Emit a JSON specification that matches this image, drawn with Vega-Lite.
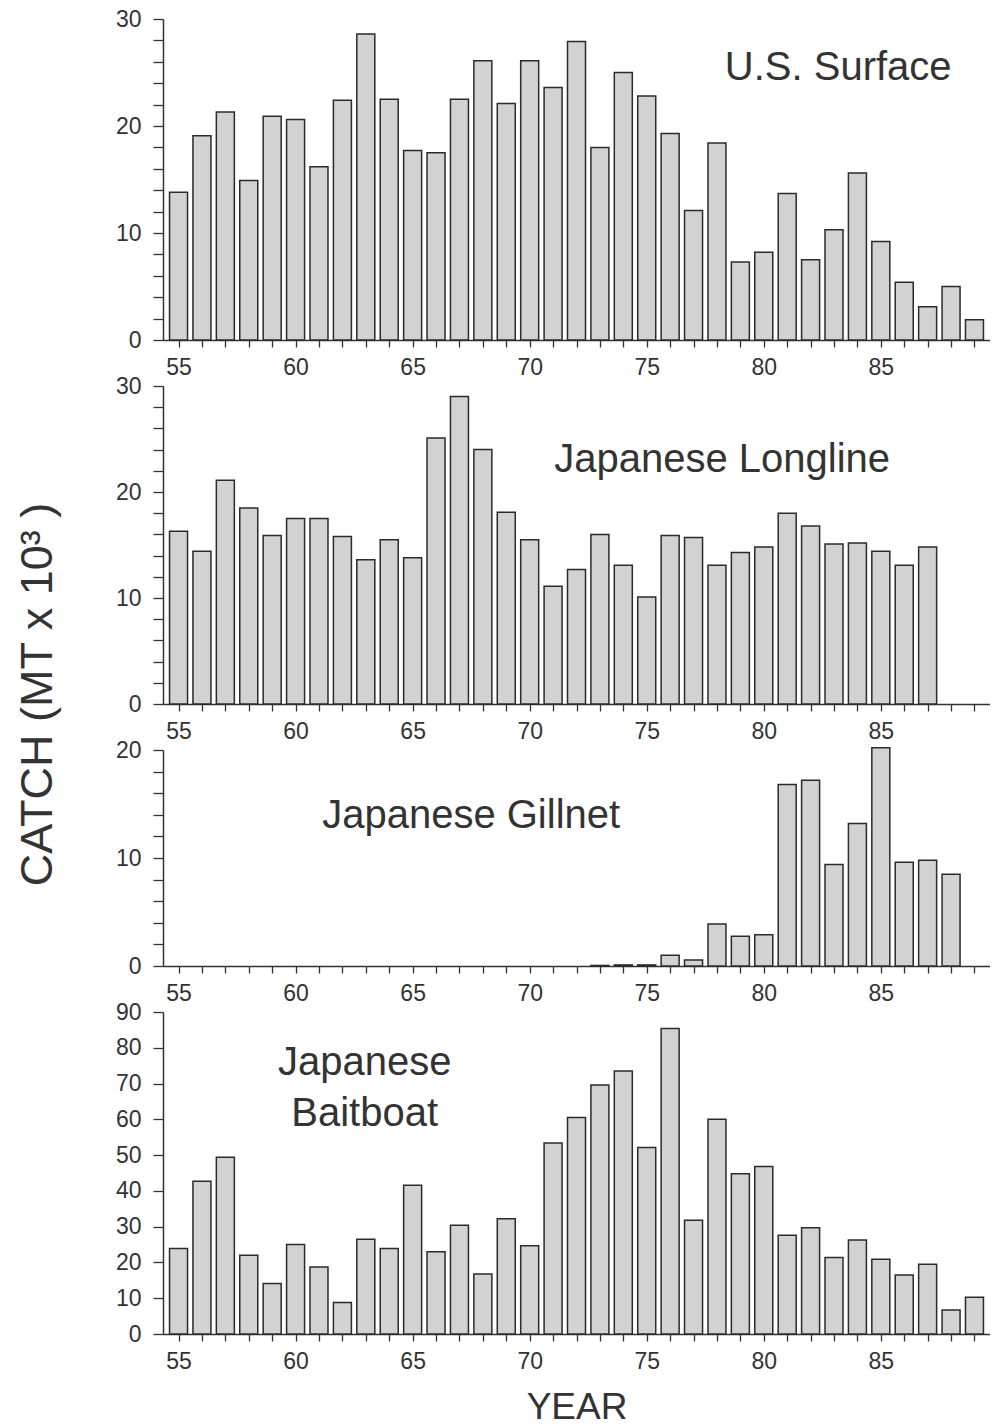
{
  "$schema": "https://vega.github.io/schema/vega-lite/v6.json",
  "background": "white",
  "padding": {"left": 16, "top": 8, "right": 0, "bottom": 0},
  "title": {"text": "CATCH (MT x 10³ )", "orient": "left", "anchor": "middle", "fontSize": 45, "font": "Liberation Sans", "fontWeight": "normal", "color": "#333333", "offset": 54, "dx": 22},
  "datasets": {
    "surface": [
      {"year": 55, "catch": 13.8}, {"year": 56, "catch": 19.1}, {"year": 57, "catch": 21.3}, {"year": 58, "catch": 14.9},
      {"year": 59, "catch": 20.9}, {"year": 60, "catch": 20.6}, {"year": 61, "catch": 16.2}, {"year": 62, "catch": 22.4},
      {"year": 63, "catch": 28.6}, {"year": 64, "catch": 22.5}, {"year": 65, "catch": 17.7}, {"year": 66, "catch": 17.5},
      {"year": 67, "catch": 22.5}, {"year": 68, "catch": 26.1}, {"year": 69, "catch": 22.1}, {"year": 70, "catch": 26.1},
      {"year": 71, "catch": 23.6}, {"year": 72, "catch": 27.9}, {"year": 73, "catch": 18.0}, {"year": 74, "catch": 25.0},
      {"year": 75, "catch": 22.8}, {"year": 76, "catch": 19.3}, {"year": 77, "catch": 12.1}, {"year": 78, "catch": 18.4},
      {"year": 79, "catch": 7.3}, {"year": 80, "catch": 8.2}, {"year": 81, "catch": 13.7}, {"year": 82, "catch": 7.5},
      {"year": 83, "catch": 10.3}, {"year": 84, "catch": 15.6}, {"year": 85, "catch": 9.2}, {"year": 86, "catch": 5.4},
      {"year": 87, "catch": 3.1}, {"year": 88, "catch": 5.0}, {"year": 89, "catch": 1.9}
    ],
    "longline": [
      {"year": 55, "catch": 16.3}, {"year": 56, "catch": 14.4}, {"year": 57, "catch": 21.1}, {"year": 58, "catch": 18.5},
      {"year": 59, "catch": 15.9}, {"year": 60, "catch": 17.5}, {"year": 61, "catch": 17.5}, {"year": 62, "catch": 15.8},
      {"year": 63, "catch": 13.6}, {"year": 64, "catch": 15.5}, {"year": 65, "catch": 13.8}, {"year": 66, "catch": 25.1},
      {"year": 67, "catch": 29.0}, {"year": 68, "catch": 24.0}, {"year": 69, "catch": 18.1}, {"year": 70, "catch": 15.5},
      {"year": 71, "catch": 11.1}, {"year": 72, "catch": 12.7}, {"year": 73, "catch": 16.0}, {"year": 74, "catch": 13.1},
      {"year": 75, "catch": 10.1}, {"year": 76, "catch": 15.9}, {"year": 77, "catch": 15.7}, {"year": 78, "catch": 13.1},
      {"year": 79, "catch": 14.3}, {"year": 80, "catch": 14.8}, {"year": 81, "catch": 18.0}, {"year": 82, "catch": 16.8},
      {"year": 83, "catch": 15.1}, {"year": 84, "catch": 15.2}, {"year": 85, "catch": 14.4}, {"year": 86, "catch": 13.1},
      {"year": 87, "catch": 14.8}
    ],
    "gillnet": [
      {"year": 73, "catch": 0.05}, {"year": 74, "catch": 0.1}, {"year": 75, "catch": 0.1}, {"year": 76, "catch": 1.0},
      {"year": 77, "catch": 0.55}, {"year": 78, "catch": 3.9}, {"year": 79, "catch": 2.75}, {"year": 80, "catch": 2.9},
      {"year": 81, "catch": 16.8}, {"year": 82, "catch": 17.2}, {"year": 83, "catch": 9.4}, {"year": 84, "catch": 13.2},
      {"year": 85, "catch": 20.2}, {"year": 86, "catch": 9.6}, {"year": 87, "catch": 9.8}, {"year": 88, "catch": 8.5}
    ],
    "baitboat": [
      {"year": 55, "catch": 23.9}, {"year": 56, "catch": 42.7}, {"year": 57, "catch": 49.4}, {"year": 58, "catch": 22.0},
      {"year": 59, "catch": 14.1}, {"year": 60, "catch": 25.0}, {"year": 61, "catch": 18.7}, {"year": 62, "catch": 8.8},
      {"year": 63, "catch": 26.5}, {"year": 64, "catch": 23.9}, {"year": 65, "catch": 41.6}, {"year": 66, "catch": 23.0},
      {"year": 67, "catch": 30.4}, {"year": 68, "catch": 16.8}, {"year": 69, "catch": 32.2}, {"year": 70, "catch": 24.7},
      {"year": 71, "catch": 53.4}, {"year": 72, "catch": 60.5}, {"year": 73, "catch": 69.6}, {"year": 74, "catch": 73.5},
      {"year": 75, "catch": 52.1}, {"year": 76, "catch": 85.4}, {"year": 77, "catch": 31.8}, {"year": 78, "catch": 60.0},
      {"year": 79, "catch": 44.8}, {"year": 80, "catch": 46.8}, {"year": 81, "catch": 27.6}, {"year": 82, "catch": 29.7},
      {"year": 83, "catch": 21.4}, {"year": 84, "catch": 26.3}, {"year": 85, "catch": 20.9}, {"year": 86, "catch": 16.5},
      {"year": 87, "catch": 19.5}, {"year": 88, "catch": 6.7}, {"year": 89, "catch": 10.3}
    ]
  },
  "spacing": 46,
  "bounds": "flush",
  "vconcat": [
    {
      "width": 827, "height": 321,
      "encoding": {
        "x": {"field": "year", "type": "quantitative", "scale": {"domain": [54.55, 89.45], "nice": false, "zero": false},
          "axis": {"title": null, "labelOverlap": false, "labelFlush": false, "values": [55,56,57,58,59,60,61,62,63,64,65,66,67,68,69,70,71,72,73,74,75,76,77,78,79,80,81,82,83,84,85,86,87,88,89], "labelExpr": "datum.value % 5 === 0 ? datum.label : ''"}},
        "y": {"field": "catch", "type": "quantitative", "scale": {"domain": [0, 30], "nice": false},
          "axis": {"title": null, "labelOverlap": false, "values": [0,2,4,6,8,10,12,14,16,18,20,22,24,26,28,30], "labelExpr": "datum.value % 10 === 0 ? datum.label : ''"}}
      },
      "layer": [
        {
          "data": {"name": "surface"},
          "mark": {"type": "bar", "width": 18, "fill": "#d2d2d2", "stroke": "#2b2b2b", "strokeWidth": 1.5}
        },
        {
          "data": {"values": [{"year": 83.18, "catch": 24.3, "label": "U.S. Surface"}]},
          "mark": {"type": "text", "fontSize": 40, "font": "Liberation Sans", "color": "#333333", "align": "center", "baseline": "alphabetic"},
          "encoding": {"text": {"field": "label"}}
        }
      ]
    },
    {
      "width": 827, "height": 318,
      "encoding": {
        "x": {"field": "year", "type": "quantitative", "scale": {"domain": [54.55, 89.45], "nice": false, "zero": false},
          "axis": {"title": null, "labelOverlap": false, "labelFlush": false, "values": [55,56,57,58,59,60,61,62,63,64,65,66,67,68,69,70,71,72,73,74,75,76,77,78,79,80,81,82,83,84,85,86,87,88,89], "labelExpr": "datum.value % 5 === 0 ? datum.label : ''"}},
        "y": {"field": "catch", "type": "quantitative", "scale": {"domain": [0, 30], "nice": false},
          "axis": {"title": null, "labelOverlap": false, "values": [0,2,4,6,8,10,12,14,16,18,20,22,24,26,28,30], "labelExpr": "datum.value % 10 === 0 ? datum.label : ''"}}
      },
      "layer": [
        {
          "data": {"name": "longline"},
          "mark": {"type": "bar", "width": 18, "fill": "#d2d2d2", "stroke": "#2b2b2b", "strokeWidth": 1.5}
        },
        {
          "data": {"values": [{"year": 78.22, "catch": 21.9, "label": "Japanese Longline"}]},
          "mark": {"type": "text", "fontSize": 40, "font": "Liberation Sans", "color": "#333333", "align": "center", "baseline": "alphabetic"},
          "encoding": {"text": {"field": "label"}}
        }
      ]
    },
    {
      "width": 827, "height": 216,
      "encoding": {
        "x": {"field": "year", "type": "quantitative", "scale": {"domain": [54.55, 89.45], "nice": false, "zero": false},
          "axis": {"title": null, "labelOverlap": false, "labelFlush": false, "values": [55,56,57,58,59,60,61,62,63,64,65,66,67,68,69,70,71,72,73,74,75,76,77,78,79,80,81,82,83,84,85,86,87,88,89], "labelExpr": "datum.value % 5 === 0 ? datum.label : ''"}},
        "y": {"field": "catch", "type": "quantitative", "scale": {"domain": [0, 20], "nice": false},
          "axis": {"title": null, "labelOverlap": false, "values": [0,2,4,6,8,10,12,14,16,18,20], "labelExpr": "datum.value % 10 === 0 ? datum.label : ''"}}
      },
      "layer": [
        {
          "data": {"name": "gillnet"},
          "mark": {"type": "bar", "width": 18, "fill": "#d2d2d2", "stroke": "#2b2b2b", "strokeWidth": 1.5}
        },
        {
          "data": {"values": [{"year": 67.5, "catch": 12.8, "label": "Japanese Gillnet"}]},
          "mark": {"type": "text", "fontSize": 40, "font": "Liberation Sans", "color": "#333333", "align": "center", "baseline": "alphabetic"},
          "encoding": {"text": {"field": "label"}}
        }
      ]
    },
    {
      "width": 827, "height": 322,
      "encoding": {
        "x": {"field": "year", "type": "quantitative", "scale": {"domain": [54.55, 89.45], "nice": false, "zero": false},
          "axis": {"title": "YEAR", "titleFontSize": 37, "titlePadding": 16, "labelOverlap": false, "labelFlush": false, "values": [55,56,57,58,59,60,61,62,63,64,65,66,67,68,69,70,71,72,73,74,75,76,77,78,79,80,81,82,83,84,85,86,87,88,89], "labelExpr": "datum.value % 5 === 0 ? datum.label : ''"}},
        "y": {"field": "catch", "type": "quantitative", "scale": {"domain": [0, 90], "nice": false},
          "axis": {"title": null, "labelOverlap": false, "values": [0,10,20,30,40,50,60,70,80,90]}}
      },
      "layer": [
        {
          "data": {"name": "baitboat"},
          "mark": {"type": "bar", "width": 18, "fill": "#d2d2d2", "stroke": "#2b2b2b", "strokeWidth": 1.5}
        },
        {
          "data": {"values": [{"year": 62.95, "catch": 72.4, "label": "Japanese"}, {"year": 62.95, "catch": 58.1, "label": "Baitboat"}]},
          "mark": {"type": "text", "fontSize": 40, "font": "Liberation Sans", "color": "#333333", "align": "center", "baseline": "alphabetic"},
          "encoding": {"text": {"field": "label"}}
        }
      ]
    }
  ],
  "config": {
    "view": {"stroke": null},
    "font": "Liberation Sans",
    "axis": {"grid": false, "domainColor": "#333333", "domainWidth": 1.5, "tickColor": "#333333", "tickWidth": 1.3,
      "labelColor": "#333333", "labelFont": "Liberation Sans", "labelFontSize": 23,
      "titleFont": "Liberation Sans", "titleColor": "#333333", "titleFontWeight": "normal"},
    "axisX": {"tickSize": 7, "labelPadding": 9},
    "axisY": {"tickSize": 10, "labelPadding": 12}
  }
}
